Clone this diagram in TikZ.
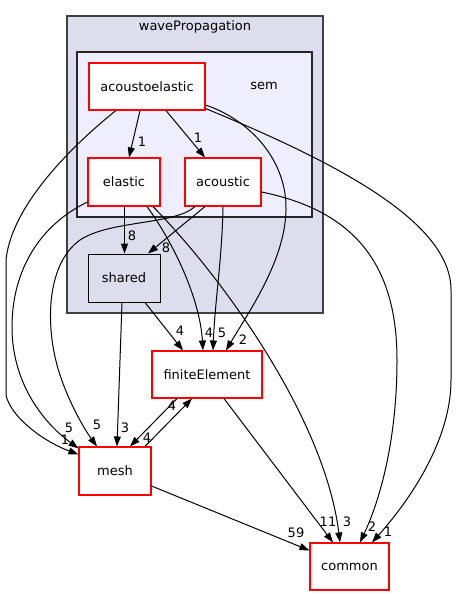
\documentclass[tikz,border=0pt]{standalone}
\usepackage{fontspec}
\setmainfont{DejaVu Sans}
\usetikzlibrary{arrows.meta}
\definecolor{clusterfill}{HTML}{DDDDEE}
\definecolor{semfill}{HTML}{EEEEFF}
\definecolor{clusterpen}{HTML}{404040}
\tikzset{
  dirnode/.style={draw=red, fill=white, line width=1.1pt, inner sep=0pt,
    font=\fontsize{13}{15}\selectfont},
  shrnode/.style={draw=black, fill=clusterfill, line width=1pt, inner sep=0pt,
    font=\fontsize{13}{15}\selectfont},
  dep/.style={line width=1pt, -{Triangle[length=10pt,width=7pt]}},
  lbl/.style={inner sep=0pt, font=\fontsize{13}{15}\selectfont},
  ctitle/.style={inner sep=0pt, font=\fontsize{13}{15}\selectfont}
}
\begin{document}
\begin{tikzpicture}[x=1pt,y=-1pt]
\useasboundingbox (0,0) rectangle (456,596);
% clusters
\draw[fill=clusterfill, draw=clusterpen, line width=1.5pt] (67,16) rectangle (323,313);
\node[ctitle] (tWave) at (195,27) {wavePropagation};
\draw[fill=semfill, draw=black!85, line width=1.5pt] (77,52) rectangle (312,217);
\node[ctitle] (tSem) at (264,86) {sem};
% nodes
\node[dirnode, minimum width=116pt, minimum height=47pt] (ae) at (147,86.5) {acoustoelastic};
\node[dirnode, minimum width=72pt, minimum height=48pt] (el) at (124,182) {elastic};
\node[dirnode, minimum width=76pt, minimum height=48pt] (ac) at (223,182) {acoustic};
\node[shrnode, minimum width=72pt, minimum height=48pt] (sh) at (124,278) {shared};
\node[dirnode, minimum width=110pt, minimum height=47pt] (fe) at (207,374.5) {finiteElement};
\node[dirnode, minimum width=72pt, minimum height=48pt] (me) at (115,471) {mesh};
\node[dirnode, minimum width=79pt, minimum height=47pt] (co) at (349.5,566.5) {common};
% edges
\draw[dep] ([xshift=-7pt]ae.south) -- ([xshift=5pt]el.north);
\node[lbl] (l1) at (142,142) {1};
\draw[dep] ([xshift=19pt]ae.south) -- ([xshift=-18pt]ac.north);
\node[lbl] (l2) at (198,138) {1};
\draw[dep] ([xshift=-31pt]ae.south) .. controls (85,135) and (12,200) .. (6,260) -- (6,395) .. controls (10,415) and (40,440) .. ([yshift=-8pt]me.north west);
\node[lbl] (l3) at (65,440) {1};
\draw[dep] ([yshift=-18.5pt]ae.east) .. controls (250,120) and (287,160) .. (286,210) .. controls (285,260) and (250,310) .. ([xshift=19pt]fe.north);
\node[lbl] (l4) at (243,340) {2};
\draw[dep] ([yshift=-22pt]ae.east) .. controls (330,160) and (451,220) .. (451,290) -- (451,380) .. controls (451,440) and (410,500) .. ([xshift=22.5pt]co.north);
\node[lbl] (l5) at (388,532) {1};
\draw[dep] ([xshift=0.5pt]el.south) -- ([xshift=0.5pt]sh.north);
\node[lbl] (l6) at (132,236) {8};
\draw[dep] ([xshift=-18pt]ac.south) -- ([xshift=24pt]sh.north);
\node[lbl] (l7) at (166,248) {8};
\draw[dep] ([xshift=23pt]el.south) .. controls (175,245) and (200,300) .. ([xshift=-4pt]fe.north);
\node[lbl] (l8) at (209,333) {4};
\draw[dep] (ac.south) .. controls (222,260) and (215,300) .. ([xshift=6pt]fe.north);
\node[lbl] (l9) at (222,333) {5};
\draw[dep] ([xshift=21pt]sh.south) -- ([xshift=-24pt]fe.north);
\node[lbl] (l10) at (180,331) {4};
\draw[dep] ([yshift=-20pt]el.west) .. controls (40,225) and (12,270) .. (12,327) .. controls (12,380) and (40,420) .. ([yshift=-2pt]me.north west);
\node[lbl] (l11) at (69,428) {5};
\draw[dep] ([xshift=-28pt]ac.south) .. controls (175,225) and (110,220) .. (80,240) .. controls (45,265) and (45,330) .. (60,375) .. controls (70,405) and (85,430) .. ([xshift=-18pt]me.north);
\node[lbl] (l12) at (97,425) {5};
\draw[dep] ([xshift=-2pt]sh.south) -- ([xshift=2pt]me.north);
\node[lbl] (l13) at (125,428) {3};
\draw[dep] ([xshift=-30pt]fe.south) -- ([xshift=15pt]me.north);
\node[lbl] (l14) at (147,438) {4};
\draw[dep] ([xshift=30pt]me.north) -- ([xshift=-15pt]fe.south);
\node[lbl] (l15) at (172,406) {4};
\draw[dep] ([xshift=17pt]fe.south) -- ([xshift=-16.5pt]co.north);
\node[lbl] (l16) at (328,522) {11};
\draw[dep] ([xshift=29pt]el.south) .. controls (225,280) and (325,420) .. ([xshift=-9.5pt]co.north);
\node[lbl] (l17) at (347,522) {3};
\draw[dep] ([yshift=-10pt]ac.east) .. controls (350,210) and (397,260) .. (397,360) .. controls (397,440) and (380,500) .. ([xshift=10.5pt]co.north);
\node[lbl] (l18) at (372,527) {2};
\draw[dep] ([yshift=-15pt]me.east) -- ([yshift=-8pt]co.north west);
\node[lbl] (l19) at (296,533) {59};
\end{tikzpicture}
\end{document}
